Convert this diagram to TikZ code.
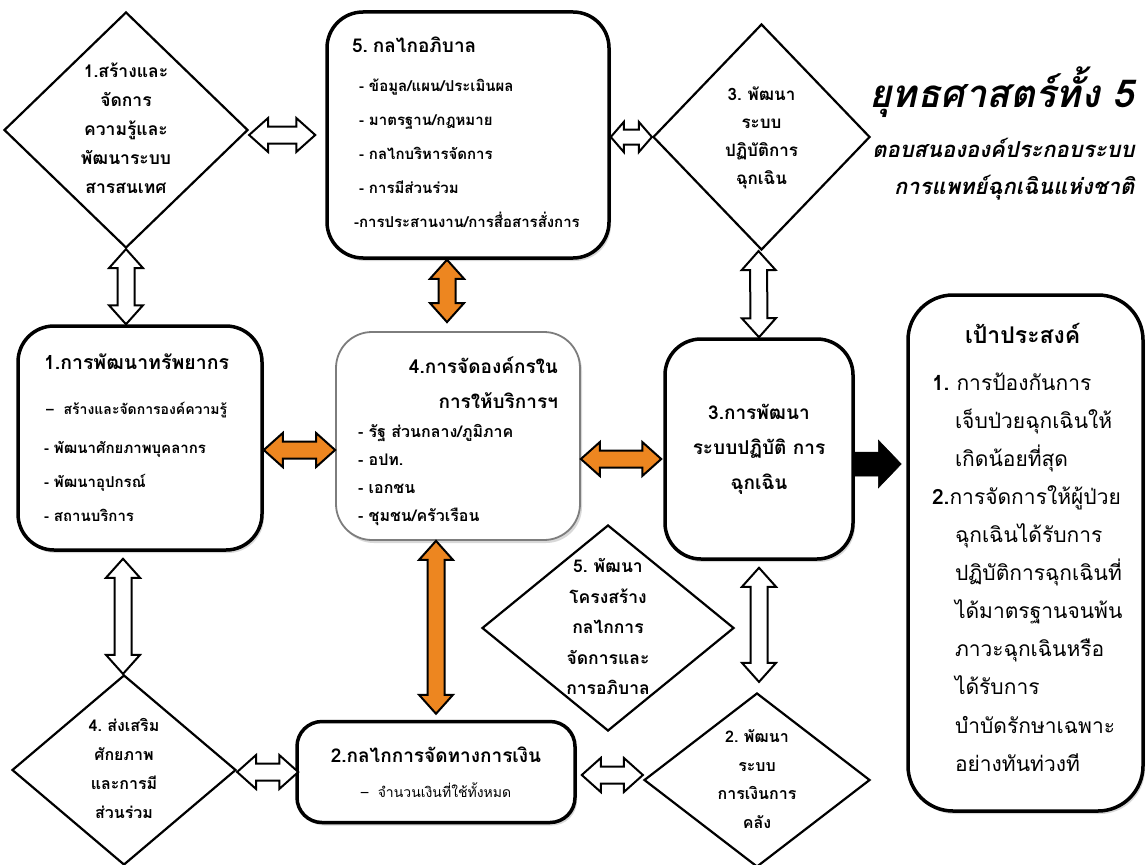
\documentclass[tikz,border=0pt]{standalone}
\usepackage{fontspec}
\setmainfont[Script=Thai]{Loma}
\usepackage{xcolor}
\usepackage{tikz}
\usetikzlibrary{calc, shapes.geometric, shadows}

\definecolor{linkorange}{RGB}{237,134,32}
\definecolor{framegray}{RGB}{125,125,125}

% ขนาดหัวลูกศรและลำตัวลูกศรแบบสองทาง
\newcommand{\hlen}{19pt}
\newcommand{\hwid}{17pt}
\newcommand{\swid}{8.5pt}
\newcommand{\twoway}[3][white]{%
  \draw[fill=#1, line width=2pt, line join=miter]
    (#2) -- ($(#2)!\hlen!(#3)!\hwid!90:(#3)$)
    -- ($(#2)!\hlen!(#3)!\swid!90:(#3)$)
    -- ($(#3)!\hlen!(#2)!\swid!-90:(#2)$)
    -- ($(#3)!\hlen!(#2)!\hwid!-90:(#2)$)
    -- (#3)
    -- ($(#3)!\hlen!(#2)!\hwid!90:(#2)$)
    -- ($(#3)!\hlen!(#2)!\swid!90:(#2)$)
    -- ($(#2)!\hlen!(#3)!\swid!-90:(#3)$)
    -- ($(#2)!\hlen!(#3)!\hwid!-90:(#3)$)
    -- cycle;}
% ลูกศรทางเดียวสีดำ
\newcommand{\oneway}[2]{%
  \draw[fill=black, line width=0.5pt]
    ($(#1)!12pt!90:(#2)$) -- ($(#2)!23pt!(#1)!12pt!-90:(#1)$)
    -- ($(#2)!23pt!(#1)!24pt!-90:(#1)$) -- (#2)
    -- ($(#2)!23pt!(#1)!24pt!90:(#1)$) -- ($(#2)!23pt!(#1)!12pt!90:(#1)$)
    -- ($(#1)!12pt!-90:(#2)$) -- cycle;}
% ข้อความในรูปข้าวหลามตัด
\newcommand{\gemtext}[1]{\smash{\raisebox{-4pt}{\begin{tabular}{@{}c@{}}#1\end{tabular}}}}
% ระยะท้ายกล่อง (เลื่อนข้อความขึ้น/ลง)
\newcommand{\tailgap}[1]{\par\vspace*{#1}\hrule height0pt width0pt}

\begin{document}
\begin{tikzpicture}[x=1pt, y=-1pt,
    mainbox/.style={draw, line width=3.5pt, rounded corners=36pt, fill=white,
      drop shadow={shadow xshift=2pt, shadow yshift=-3pt, opacity=0.3}},
    softbox/.style={mainbox, draw=framegray, line width=1.8pt},
    gem/.style={diamond, draw, line width=2.2pt, fill=white, inner sep=0pt,
      font=\bfseries\fontsize{16}{29}\selectfont},
  ]
    \fill[white] (0,0) rectangle (1147,864);
    \useasboundingbox (0,0) rectangle (1147,864);

    % กล่องหลัก
    \node[mainbox, minimum width=282, minimum height=246, text width=232, align=left,
        font=\bfseries\fontsize{15}{34}\selectfont] (b5) at (468,135)
        {{\fontsize{19}{34}\selectfont 5.~กลไกอภิบาล}\\[5pt]
         \hspace*{7pt}-~ข้อมูล/แผน/ประเมินผล\\
         \hspace*{7pt}-~มาตรฐาน/กฎหมาย\\
         \hspace*{7pt}-~กลไกบริหารจัดการ\\
         \hspace*{7pt}-~การมีส่วนร่วม\\
         \hspace*{2pt}\mbox{-การประสานงาน/การสื่อสารสั่งการ}\tailgap{5pt}};
    \node[mainbox, minimum width=244, minimum height=224, text width=192, align=left,
        font=\bfseries\fontsize{15}{34}\selectfont] (b1) at (140,438)
        {{\fontsize{19.5}{34}\selectfont 1.การพัฒนาทรัพยากร}\\[11pt]
         {\fontsize{14}{34}\selectfont\hspace*{2pt}–~~สร้างและจัดการองค์ความรู้}\\[5pt]
         -~พัฒนาศักยภาพบุคลากร\\
         -~พัฒนาอุปกรณ์\\
         -~สถานบริการ};
    \node[softbox, minimum width=244, minimum height=208, text width=200, align=left,
        font=\bfseries\fontsize{16}{28}\selectfont] (b4) at (458,436)
        {{\fontsize{19}{28}\selectfont\hspace*{\fill}4.การจัดองค์กรใน\hspace*{\fill}}\\[7pt]
         {\fontsize{19}{28}\selectfont\hspace*{\fill}การให้บริการฯ\hspace*{\fill}}\\[1pt]
         -~รัฐ~ส่วนกลาง/ภูมิภาค\\
         -~อปท.\\
         -~เอกชน\\
         -~ชุมชน/ครัวเรือน\tailgap{-10pt}};
    \node[mainbox, minimum width=188, minimum height=220, text width=170, align=center,
        font=\bfseries\fontsize{19}{35}\selectfont] (b3) at (759,449)
        {3.การพัฒนา\\ระบบปฏิบัติ~การ\\ฉุกเฉิน};
    \node[mainbox, rounded corners=25pt, minimum width=278, minimum height=101,
        text width=250, align=center, font=\fontsize{14}{35}\selectfont] (b2) at (436,772)
        {{\bfseries\fontsize{19}{35}\selectfont 2.กลไกการจัดทางการเงิน}\\
         –~~จำนวนเงินที่ใช้ทั้งหมด};
    \node[mainbox, rounded corners=45pt, minimum width=235, minimum height=516,
        text width=187, align=left, font=\fontsize{21}{38.1}\selectfont] (goal) at (1025.5,553)
        {{\bfseries\fontsize{23}{38}\selectfont\hspace*{33pt}เป้าประสงค์}\\[8pt]
         \textbf{1.}~การป้องกันการ\\
         \hspace*{23pt}เจ็บป่วยฉุกเฉินให้\\
         \hspace*{23pt}เกิดน้อยที่สุด\\
         \textbf{2.}การจัดการให้ผู้ป่วย\\
         \hspace*{23pt}ฉุกเฉินได้รับการ\\
         \hspace*{23pt}ปฏิบัติการฉุกเฉินที่\\
         \hspace*{23pt}ได้มาตรฐานจนพ้น\\
         \hspace*{23pt}ภาวะฉุกเฉินหรือ\\
         \hspace*{23pt}ได้รับการ\\
         \hspace*{23pt}บำบัดรักษาเฉพาะ\\
         \hspace*{23pt}อย่างทันท่วงที\tailgap{11pt}};

    % ยุทธศาสตร์ในรูปข้าวหลามตัด
    \node[gem, minimum width=244, minimum height=236, font=\bfseries\fontsize{17.5}{29}\selectfont]
        (d1) at (126,130) {\gemtext{1.สร้างและ\\จัดการ\\ความรู้และ\\พัฒนาระบบ\\สารสนเทศ}};
    \node[gem, minimum width=217, minimum height=226, font=\bfseries\fontsize{17}{28}\selectfont]
        (d3) at (761.5,137) {\gemtext{3.~พัฒนา\\ระบบ\\ปฏิบัติการ\\ฉุกเฉิน}};
    \node[gem, minimum width=252, minimum height=206, font=\bfseries\fontsize{17.5}{30.5}\selectfont]
        (d5) at (608,628) {\gemtext{5.~พัฒนา\\โครงสร้าง\\กลไกการ\\จัดการและ\\การอภิบาล}};
    \node[gem, minimum width=224, minimum height=190] (d4) at (124,770)
        {\gemtext{4.~ส่งเสริม\\ศักยภาพ\\และการมี\\ส่วนร่วม}};
    \node[gem, minimum width=226, minimum height=174, font=\bfseries\fontsize{16}{28.5}\selectfont]
        (d2) at (757,780) {\gemtext{2.~พัฒนา\\ระบบ\\การเงินการ\\คลัง}};

    % หัวเรื่อง
    \node[anchor=base east, font=\bfseries\itshape\fontsize{38.5}{38}\selectfont] (title)
        at (1138,107) {ยุทธศาสตร์ทั้ง 5};
    \node[anchor=base east, font=\bfseries\itshape\fontsize{22}{22}\selectfont] (sub1)
        at (1138,157) {ตอบสนององค์ประกอบระบบ};
    \node[anchor=base east, font=\bfseries\itshape\fontsize{22}{22}\selectfont] (sub2)
        at (1138,194) {การแพทย์ฉุกเฉินแห่งชาติ};

    % ลูกศรเชื่อม
    \twoway{[yshift=-5pt]d1.east}{[xshift=-10pt]b5.west}
    \twoway{d1.south}{[xshift=-14pt]b1.north}
    \twoway[linkorange]{[xshift=-21pt]b5.south}{[xshift=-11pt, yshift=9pt]b4.north}
    \twoway[linkorange]{[yshift=-12pt]b1.east}{[yshift=-14pt]b4.west}
    \twoway[linkorange]{[yshift=-23pt]b4.east}{[xshift=-2pt, yshift=-10pt]b3.west}
    {\renewcommand{\hlen}{13pt}\renewcommand{\hwid}{15pt}\renewcommand{\swid}{7.5pt}%
     \twoway{[yshift=-2pt]b5.east}{d3.west}}
    \twoway{[xshift=-3pt]d3.south}{b3.north}
    \twoway{[yshift=-7pt]b3.south}{[xshift=2pt, yshift=10pt]d2.north}
    \twoway[linkorange]{[xshift=-22pt]b4.south}{[yshift=6pt]b2.north}
    \twoway{[xshift=5pt, yshift=-3pt]b2.east}{[yshift=5pt]d2.west}
    \twoway{[xshift=-17pt, yshift=-7pt]b1.south}{[xshift=-1pt]d4.north}
    \twoway{[yshift=-2pt]d4.east}{[xshift=3pt]b2.west}
    \oneway{[yshift=-15pt]b3.east}{[xshift=-5pt, yshift=89pt]goal.west}
\end{tikzpicture}
\end{document}
